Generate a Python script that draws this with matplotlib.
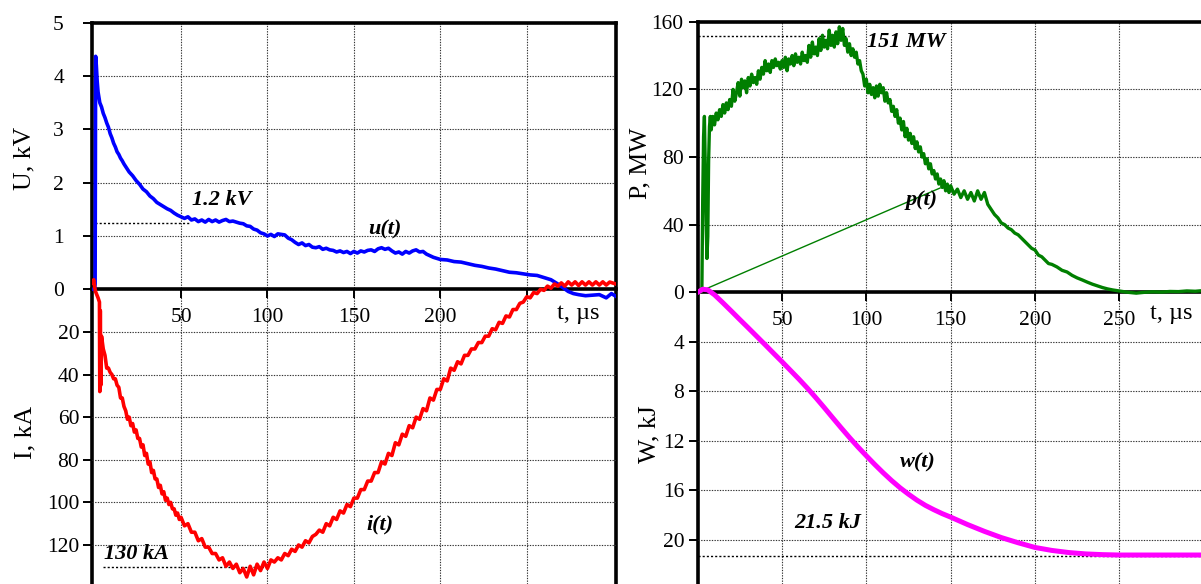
import matplotlib
matplotlib.use('Agg')
import matplotlib.pyplot as plt
import numpy as np

plt.rcParams['font.family'] = ['Liberation Serif', 'DejaVu Serif']

# ---- left panel: voltage u(t), kV and current i(t), kA ----
t_u = [-1.3, 0, 0.3, 0.6, 1.0, 1.5, 2, 3, 4, 5, 6, 7, 8, 9, 10, 11, 12, 13, 14, 15,
       16, 17, 18, 19, 20, 22, 24, 26, 28, 30, 32, 34, 36, 38, 40, 42, 44, 46, 48, 50,
       52, 54, 56, 58, 60, 62, 64, 66, 68, 70, 72, 74, 76, 78, 80, 82, 84, 86, 88, 90,
       92, 94, 96, 98, 100, 102, 104, 106, 108, 110, 112, 114, 116, 118, 120, 122, 124,
       126, 128, 130, 132, 134, 136, 138, 140, 142, 144, 146, 148, 150, 152, 154, 156,
       158, 160, 162, 164, 166, 168, 170, 172, 174, 176, 178, 180, 182, 184, 186, 188,
       190, 192, 194, 196, 198, 200, 204, 208, 212, 216, 220, 224, 228, 232, 236, 240,
       244, 248, 252, 256, 260, 264, 268, 271, 274, 277, 280, 284, 288, 292, 296, 299, 301.5]
u = [0, 0, 0.1, 4.37, 4.2, 3.9, 3.7, 3.5, 3.42, 3.3, 3.22, 3.12, 3.04, 2.92, 2.84, 2.74,
     2.67, 2.58, 2.53, 2.46, 2.41, 2.35, 2.30, 2.25, 2.2, 2.13, 2.04, 1.97, 1.88, 1.83,
     1.75, 1.70, 1.63, 1.59, 1.55, 1.51, 1.48, 1.43, 1.39, 1.36, 1.33, 1.36, 1.30, 1.32,
     1.27, 1.30, 1.26, 1.31, 1.27, 1.30, 1.26, 1.29, 1.31, 1.27, 1.28, 1.26, 1.24, 1.23,
     1.19, 1.18, 1.13, 1.11, 1.06, 1.04, 1.00, 1.03, 0.99, 1.04, 1.03, 1.02, 0.96, 0.93,
     0.88, 0.84, 0.87, 0.82, 0.84, 0.79, 0.78, 0.80, 0.75, 0.77, 0.74, 0.73, 0.70, 0.72,
     0.69, 0.71, 0.67, 0.71, 0.68, 0.72, 0.70, 0.73, 0.74, 0.71, 0.76, 0.78, 0.75, 0.77,
     0.72, 0.68, 0.70, 0.66, 0.71, 0.68, 0.72, 0.74, 0.70, 0.71, 0.66, 0.63, 0.60, 0.58,
     0.56, 0.55, 0.52, 0.51, 0.48, 0.45, 0.43, 0.40, 0.38, 0.35, 0.32, 0.31, 0.29, 0.27,
     0.26, 0.22, 0.18, 0.10, 0.03, -0.04, -0.08, -0.10, -0.12, -0.11, -0.10, -0.16, -0.08, -0.13]

t_i = [-1.3, -0.5, 0, 0.5, 1.0, 2, 2.8, 3.0, 3.3, 3.6, 4, 5, 6, 7, 8, 9, 10, 11, 12, 13,
       14, 15, 16, 17, 18, 19, 20, 21, 22, 23, 24, 25, 26, 27, 28, 29, 30, 31, 32, 33, 34,
       35, 36, 37, 38, 39, 40, 41, 42, 43, 44, 45, 46, 47, 48, 49, 50, 52, 54, 56, 58, 60,
       62, 64, 66, 68, 70, 72, 74, 76, 78, 80, 82, 84, 86, 88, 90, 92, 94, 96, 98, 100, 102,
       104, 106, 108, 110, 112, 114, 116, 118, 120, 122, 124, 126, 128, 130, 132, 134, 136,
       138, 140, 142, 144, 146, 148, 150, 152, 154, 156, 158, 160, 162, 164, 166, 168, 170,
       172, 174, 176, 178, 180, 182, 184, 186, 188, 190, 192, 194, 196, 198, 200, 202, 204,
       206, 208, 210, 212, 214, 216, 218, 220, 222, 224, 226, 228, 230, 232, 234, 236, 238,
       240, 242, 244, 246, 248, 250, 252, 254, 256, 258, 260, 262, 264, 266, 268, 270, 272,
       274, 276, 278, 280, 282, 284, 286, 288, 290, 292, 294, 296, 298, 301.5]
i_ka = [-3, -4.5, -1, 1, 2, 4, 6, 48, 10, 45, 22, 28, 31, 37, 37, 39, 40, 42, 42, 45, 46,
        51, 51, 55, 57, 61, 60, 64, 63, 67, 66, 70, 70, 74, 73, 78, 77, 82, 81, 86, 85, 89,
        89, 93, 92, 96, 95, 99, 98, 101, 100, 103, 103, 106, 105, 108, 107, 111, 110, 114,
        114, 118, 117, 121, 121, 124, 124, 127, 126, 130, 128, 131, 129, 133, 131, 135, 130,
        134, 129, 132, 128, 131, 127, 128, 126, 127, 124, 125, 122, 123, 120, 121, 118, 119,
        116, 115, 113, 114, 110, 111, 107, 108, 104, 105, 101, 102, 98, 98, 94, 94, 90, 90,
        86, 86, 81, 82, 77, 78, 72, 73, 68, 69, 64, 65, 60, 61, 56, 57, 51, 52, 47, 47, 42,
        43, 37, 38, 34, 35, 31, 31, 28, 28, 25, 25, 22, 22, 18.5, 19, 15.5, 16, 12.5, 13, 9.5,
        9.5, 6.6, 6, 3.5, 4, 1.5, 2, 0, 0.5, -1.5, -0.5, -2.5, -1.5, -3, -1.5, -3.5, -2, -3.5,
        -1.8, -3.5, -2, -3.5, -2, -3.5, -2, -3.5, -2, -3.4, -2.5]

# ---- right panel: power p(t), MW and energy w(t), kJ ----
t_p = [0, 1, 2, 2.5, 3, 3.5, 4, 4.5, 5, 5.5, 6, 6.5, 7, 7.5, 8, 9, 10, 11, 12, 13, 14,
       15, 16, 17, 18, 19, 20, 21, 22, 23, 24, 25, 26, 27, 28, 29, 30, 31, 32, 33, 34, 35,
       36, 37, 38, 39, 40, 41, 42, 43, 44, 45, 46, 47, 48, 49, 50, 51, 52, 53, 54, 55, 56,
       57, 58, 59, 60, 61, 62, 63, 64, 65, 66, 67, 68, 69, 70, 71, 72, 73, 74, 75, 76, 77,
       78, 79, 80, 81, 82, 83, 84, 85, 86, 87, 88, 89, 90, 91, 92, 93, 94, 95, 96, 97, 98,
       99, 100, 101, 102, 103, 104, 105, 106, 107, 108, 109, 110, 111, 112, 113, 114, 115,
       116, 117, 118, 119, 120, 121, 122, 123, 124, 125, 126, 127, 128, 129, 130, 131, 132,
       133, 134, 135, 136, 137, 138, 139, 140, 141, 142, 143, 144, 145, 146, 147, 148, 149,
       150, 152, 154, 156, 158, 160, 162, 164, 166, 168, 170, 172, 174, 176, 178, 180, 182,
       184, 186, 188, 190, 192, 194, 196, 198, 200, 202, 204, 206, 208, 210, 213, 216, 219,
       222, 225, 228, 231, 234, 237, 240, 243, 246, 250, 255, 260, 265, 270, 275, 280, 285,
       290, 295, 298.4]
p_mw = [0, 0.5, 0.3, 1, 55, 92, 104, 75, 42, 20, 33, 78, 98, 104, 96, 104, 99, 106, 102,
        108, 104, 111, 106, 112, 108, 114, 110, 120, 113, 118, 124, 116, 126, 121, 125, 118,
        127, 122, 129, 124, 127, 123, 131, 126, 133, 129, 137, 131, 135, 130, 137, 133, 138,
        134, 136, 132, 137, 133, 139, 131, 138, 135, 140, 134, 141, 136, 139, 135, 142, 137,
        140, 136, 146, 139, 148, 141, 145, 140, 150, 143, 152, 145, 149, 144, 155, 146, 152,
        145, 154, 147, 157, 149, 156, 146, 150, 142, 147, 140, 144, 139, 142, 135, 137, 131,
        129, 122, 126, 118, 123, 117, 121, 115, 122, 116, 123, 118, 121, 113, 118, 112, 114,
        107, 110, 104, 108, 100, 103, 96, 101, 92, 97, 90, 94, 88, 92, 85, 89, 83, 86, 80,
        82, 76, 79, 73, 76, 70, 72, 67, 70, 64, 67, 62, 66, 60, 64, 59, 63, 58, 61, 56, 60,
        55, 59, 54, 60, 55, 59, 52, 49, 46, 44, 41, 40, 38, 37, 35, 34, 32, 30, 28, 26, 25,
        22, 21, 19, 17, 16.5, 15, 13, 12, 10, 8.5, 7.3, 6, 4.8, 3.8, 2.8, 2, 1.4, 0.8, 0,
        -0.5, 0, 0.3, 0.1, 0.5, 0.4, 0.8, 0.6, 0.9]

t_w = [0, 3, 6, 10, 15, 20, 25, 30, 35, 40, 45, 50, 55, 60, 65, 70, 75, 80, 85, 90, 95,
       100, 105, 110, 115, 120, 125, 130, 135, 140, 145, 150, 160, 170, 180, 190, 200, 210,
       220, 230, 240, 250, 298.4]
w_kj = [0, -0.25, -0.2, 0.2, 0.85, 1.52, 2.2, 2.87, 3.55, 4.23, 4.92, 5.6, 6.3, 7.0, 7.73,
        8.5, 9.3, 10.12, 10.93, 11.72, 12.48, 13.2, 13.9, 14.57, 15.2, 15.78, 16.3, 16.78,
        17.2, 17.55, 17.87, 18.15, 18.75, 19.3, 19.8, 20.22, 20.6, 20.84, 21.01, 21.12, 21.18,
        21.21, 21.21]

# marked levels
u_mark, i_mark, p_mark, w_mark = 1.24, 130.2, 151.6, 21.3
# thin leader line of the p(t) label
leader_t = [3.4, 143.8]
leader_p = [1.4, 61.7]

fig = plt.figure(figsize=(12.01, 5.84), dpi=100)
axU = fig.add_axes([0.0769, 0.0, 0.4358, 0.9611])
axI = axU.twinx()
axP = fig.add_axes([0.5809, 0.0, 0.4191, 0.9628])
axW = axP.twinx()

grid_kw = dict(linestyle=(0, (1.2, 1.2)), color='0.2', linewidth=0.8)
dot_kw = dict(linestyle=(0, (1.5, 1.5)), color='black', linewidth=1.0)
lab_kw = dict(fontsize=16, fontweight='bold', fontstyle='italic', ha='center', va='center')


def frame(ax, tw, right_spine=True):
    for s in ['left', 'top', 'right', 'bottom']:
        ax.spines[s].set_linewidth(2.6)
    ax.spines['bottom'].set_position(('data', 0))
    ax.spines['right'].set_visible(right_spine)
    ax.tick_params(axis='both', direction='out', length=6.5, width=1.4, labelsize=15.5)
    ax.tick_params(axis='x', pad=7)
    ax.grid(True, **grid_kw)
    ax.set_axisbelow(True)
    for s in tw.spines.values():
        s.set_visible(False)
    tw.yaxis.tick_left()
    tw.tick_params(axis='y', direction='out', length=6.5, width=1.4, labelsize=15.5, pad=3)
    tw.grid(True, axis='y', **grid_kw)


# left panel
axU.set_xlim(-1.3, 301.5)
axU.set_ylim(-5.527, 5)
axI.set_ylim(138.3, -125.1)
frame(axU, axI)
axU.set_xticks([50, 100, 150, 200, 250])
axU.set_xticklabels(['50', '100', '150', '200', ''])
axU.set_yticks([0, 1, 2, 3, 4, 5])
axU.tick_params(axis='y', pad=14)
axI.set_yticks([20, 40, 60, 80, 100, 120])

axI.plot(t_i, i_ka, color='#ff0000', lw=2.6, zorder=3)
axU.plot(t_u, u, color='#0000ff', lw=2.6, zorder=3)
axU.plot([0, 55], [u_mark, u_mark], **dot_kw)
axI.plot([5, 100], [i_mark, i_mark], **dot_kw)
axU.text(73.7, 1.675, '1.2 kV', **lab_kw)
axU.text(168, 1.13, 'u(t)', **lab_kw)
axI.text(24.5, 124.2, '130 kA', **lab_kw)
axI.text(165, 110.6, 'i(t)', **lab_kw)
axU.text(279.7, -0.463, 't, µs', fontsize=17.5, ha='center', va='center')

# right panel
axP.set_xlim(0, 298.4)
axP.set_ylim(-172.5, 160)
axW.set_ylim(23.55, -21.85)
frame(axP, axW, right_spine=False)
axP.set_xticks([50, 100, 150, 200, 250])
axP.set_yticks([0, 40, 80, 120, 160])
axP.tick_params(axis='y', pad=3.5)
axW.set_yticks([4, 8, 12, 16, 20])

axP.plot(t_p, p_mw, color='#007f00', lw=2.4, zorder=3)
axP.plot(leader_t, leader_p, color='#007f00', lw=1.0, zorder=3)
axW.plot(t_w, w_kj, color='#ff00ff', lw=3.6, zorder=3)
axP.plot([0, 90], [p_mark, p_mark], **dot_kw)
axW.plot([0, 298.4], [w_mark, w_mark], **dot_kw)
axP.text(123.6, 148.0, '151 MW', **lab_kw)
axP.text(132.5, 54.6, 'p(t)', **lab_kw)
axW.text(130.7, 13.7, 'w(t)', **lab_kw)
axW.text(77.3, 18.63, '21.5 kJ', **lab_kw)
axP.text(280.7, -12.8, 't, µs', fontsize=17.5, ha='center', va='center')

# axis titles
fig.text(0.0200, 0.7295, 'U, kV', rotation=90, fontsize=18.5, ha='center', va='center')
fig.text(0.0208, 0.2603, 'I, kA', rotation=90, fontsize=18.5, ha='center', va='center')
fig.text(0.5329, 0.7209, 'P, MW', rotation=90, fontsize=18.5, ha='center', va='center')
fig.text(0.5404, 0.2568, 'W, kJ', rotation=90, fontsize=18.5, ha='center', va='center')

fig.savefig('out.png', dpi=100)
